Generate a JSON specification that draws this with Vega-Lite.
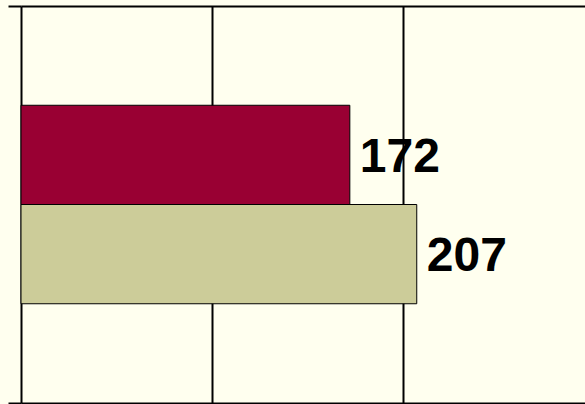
{
  "$schema": "https://vega.github.io/schema/vega-lite/v6.json",
  "autosize": "none",
  "width": 564,
  "height": 397,
  "padding": {"left": 21, "top": 6, "right": 0, "bottom": 1},
  "background": "#FFFFEF",
  "config": {"view": {"stroke": null}},
  "data": {"values": [
    {"cat": "c", "series": "A", "value": 172},
    {"cat": "c", "series": "B", "value": 207}
  ]},
  "encoding": {
    "y": {"field": "cat", "type": "nominal", "scale": {"paddingInner": 0, "paddingOuter": 0},
      "axis": {"title": null, "labels": false, "tickBand": "extent", "tickSize": 13, "tickWidth": 2, "tickColor": "#000", "domainColor": "#000", "domainWidth": 2, "grid": false}},
    "yOffset": {"field": "series", "type": "nominal", "scale": {"domain": ["A", "B"], "paddingInner": 0, "paddingOuter": 1}},
    "x": {"field": "value", "type": "quantitative", "scale": {"domain": [0, 295], "nice": false, "zero": true}}
  },
  "layer": [
    {
      "mark": {"type": "bar", "stroke": "#000", "strokeWidth": 1},
      "encoding": {
        "x": {"field": "value", "type": "quantitative", "scale": {"domain": [0, 295], "nice": false},
          "axis": {"orient": "bottom", "title": null, "labels": false, "ticks": false, "domainColor": "#000", "domainWidth": 2, "grid": true, "gridColor": "#000", "gridWidth": 2, "gridOpacity": 1, "values": [100, 200]}},
        "color": {"field": "series", "type": "nominal", "scale": {"domain": ["A", "B"], "range": ["#990033", "#CCCC99"]}, "legend": null}
      }
    },
    {
      "mark": {"type": "text", "align": "left", "baseline": "alphabetic", "dx": 10, "dy": 17, "font": "Liberation Sans", "fontWeight": "bold", "fontSize": 48, "color": "#000"},
      "encoding": {
        "x": {"field": "value", "type": "quantitative", "scale": {"domain": [0, 295], "nice": false},
          "axis": {"orient": "top", "title": null, "labels": false, "ticks": false, "domainColor": "#000", "domainWidth": 2, "grid": false, "values": []}},
        "text": {"field": "value", "type": "quantitative"}
      }
    }
  ],
  "resolve": {"axis": {"x": "independent"}}
}
